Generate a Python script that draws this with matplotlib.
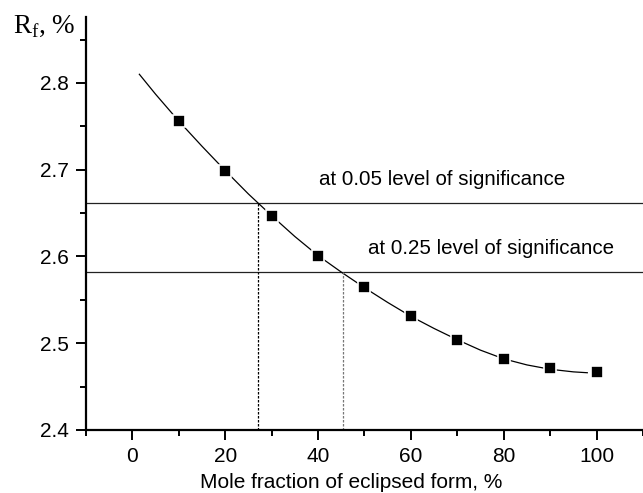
import matplotlib
matplotlib.use('Agg')
import matplotlib.pyplot as plt
from matplotlib.ticker import MultipleLocator

# measured points
x_pts = [10, 20, 30, 40, 50, 60, 70, 80, 90, 100]
y_pts = [2.756, 2.699, 2.647, 2.601, 2.565, 2.531, 2.504, 2.482, 2.471, 2.467]

# fitted curve
x_fit = [1.5, 5, 10, 15, 20, 25, 30, 35, 40, 45, 50, 55, 60, 65, 70, 75, 80, 85, 90, 95, 98]
y_fit = [2.810, 2.787, 2.756, 2.727, 2.699, 2.672, 2.647, 2.623, 2.601, 2.582, 2.564,
         2.547, 2.531, 2.517, 2.504, 2.492, 2.482, 2.475, 2.470, 2.467, 2.466]

# significance levels
lev_y = [2.662, 2.582]
lev_x = [27.0, 45.3]
lev_text = ["at 0.05 level of significance", "at 0.25 level of significance"]
lev_text_x = [40.3, 50.8]
lev_text_y = [2.689, 2.609]

plt.rcParams['font.family'] = ['Liberation Sans', 'DejaVu Sans']

fig = plt.figure(figsize=(6.43, 4.93), dpi=100)
ax = fig.add_axes([0.1337, 0.1278, 0.8663, 0.8377])

ax.plot(x_fit, y_fit, color='black', linewidth=0.9, zorder=2)
ax.plot(x_pts, y_pts, linestyle='none', marker='s', markersize=8.7,
        markerfacecolor='black', markeredgecolor='white', markeredgewidth=1.2, zorder=3)

ax.axhline(lev_y[0], color='#222222', linewidth=0.9, zorder=1)
ax.axhline(lev_y[1], color='#222222', linewidth=0.9, zorder=1)
ax.vlines(lev_x[0], 2.4, lev_y[0], colors='black', linestyles=(0, (2, 1.2)), linewidth=0.9)
ax.vlines(lev_x[1], 2.4, lev_y[1], colors='#777777', linestyles=(0, (2, 1.2)), linewidth=0.9)

for t, tx, ty in zip(lev_text, lev_text_x, lev_text_y):
    ax.text(tx, ty, t, fontsize=14.8, va='center', ha='left')

ax.set_xlim(-10, 110)
ax.set_ylim(2.4, 2.876)
ax.xaxis.set_major_locator(MultipleLocator(20))
ax.xaxis.set_minor_locator(MultipleLocator(10))
ax.yaxis.set_major_locator(MultipleLocator(0.1))
ax.yaxis.set_minor_locator(MultipleLocator(0.05))

for s in ['top', 'right']:
    ax.spines[s].set_visible(False)
for s in ['left', 'bottom']:
    ax.spines[s].set_linewidth(1.6)

ax.tick_params(which='major', length=7, width=1.4, labelsize=15, pad=5)
ax.tick_params(which='minor', length=4, width=1.4)

ax.set_xlabel('Mole fraction of eclipsed form, %', fontsize=15, labelpad=5)
ax.xaxis.set_label_coords(0.477, -0.105)
fig.text(0.020, 0.948, 'R$_\\mathregular{f}$, %', fontsize=19.5, family='Liberation Serif',
         va='center', ha='left')

fig.savefig('out.png', dpi=100)
